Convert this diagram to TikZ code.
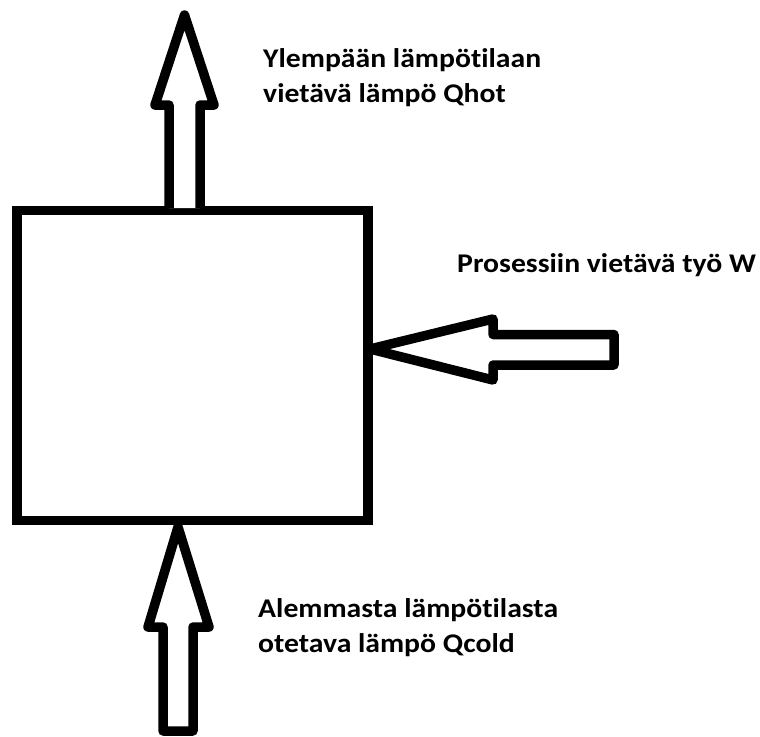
\documentclass[tikz,border=0pt]{standalone}
\usepackage{fontspec}
\setmainfont{Carlito}
\newfontfamily\lblfont[FakeStretch=1.1,Ligatures=NoCommon]{Carlito}
\begin{document}
\begin{tikzpicture}[x=1pt,y=-1pt,
  outline/.style={draw=black,line width=9.5pt},
  blockarrow/.style={draw=black,line width=9.5pt,line join=round,fill=white},
  label/.style={anchor=base west,inner sep=0pt,font=\lblfont\fontsize{27}{35}\selectfont\bfseries,align=left}]
\useasboundingbox[fill=white] (0,0) rectangle (760,736);
% box
\node[outline,minimum width=351pt,minimum height=310pt,inner sep=0pt,line join=miter] (box) at (192.5,365.5) {};
% top arrow (Qhot)
\draw[blockarrow] (169,208) -- (169,105) -- (155,105) -- (184.5,15) -- (214,105) -- (200,105) -- (200,208);
% right arrow (W)
\draw[blockarrow] (370,349) -- (493,319) -- (493,334.5) -- (614,334.5) -- (614,365) -- (493,365) -- (493,380) -- cycle;
% bottom arrow (Qcold)
\draw[blockarrow] (178,527) -- (209,627) -- (193,627) -- (193,731) -- (163,731) -- (163,627) -- (148,627) -- cycle;
% labels (anchor = baseline of last line)
\node[label] (qhot) at (263,102) {Ylempään lämpötilaan\\vietävä lämpö Qhot};
\node[label] (work) at (457,272) {Prosessiin vietävä työ W};
\node[label] (qcold) at (258,652) {Alemmasta lämpötilasta\\otetava lämpö Qcold};
\end{tikzpicture}
\end{document}
